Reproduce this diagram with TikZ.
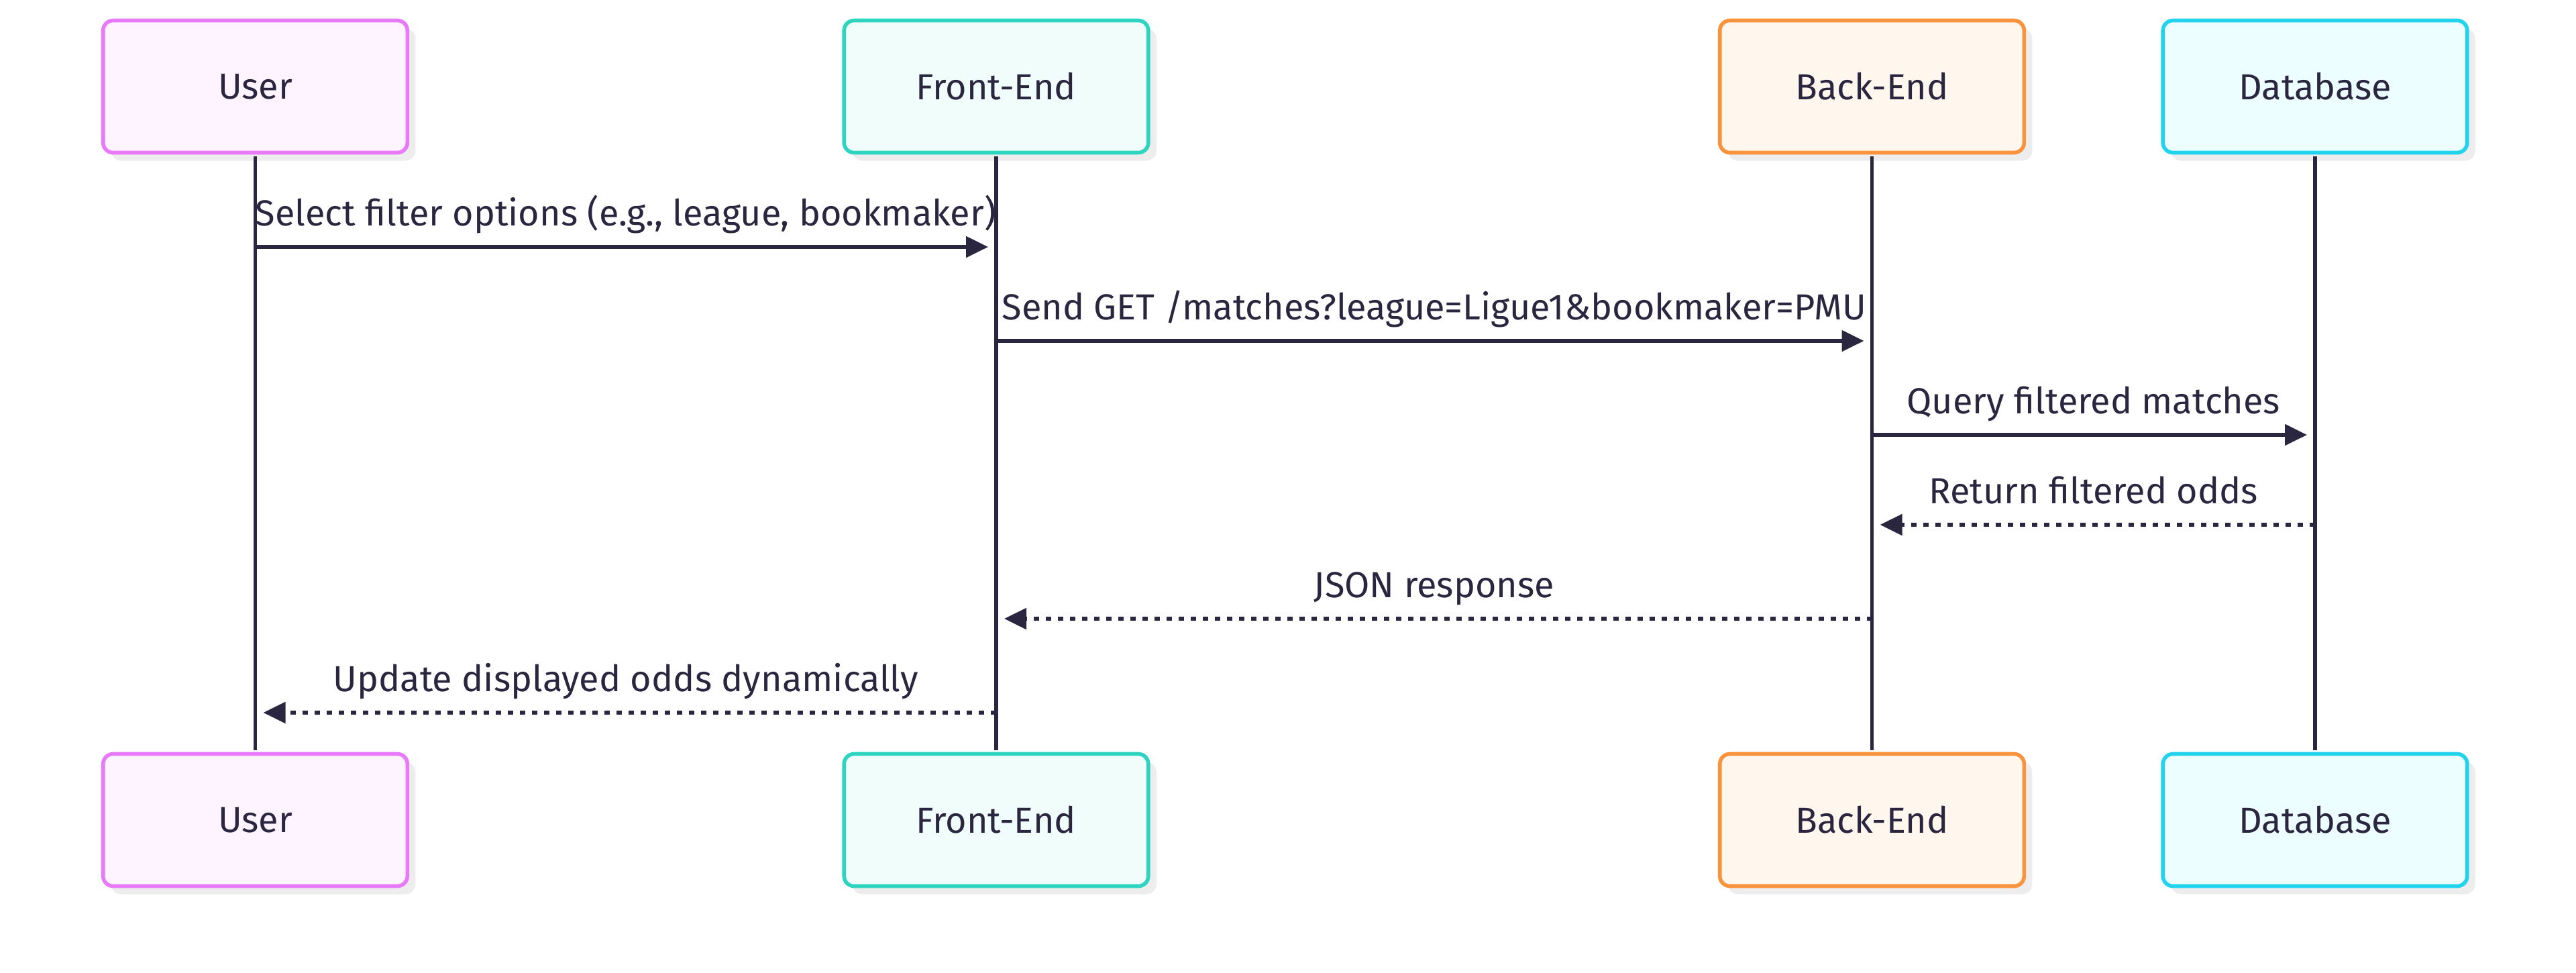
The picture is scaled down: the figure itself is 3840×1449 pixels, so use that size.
\documentclass[tikz,border=0pt]{standalone}
\usepackage{fontspec}
\setmainfont{Fira Sans}
\usetikzlibrary{arrows.meta,shadows}
\definecolor{ink}{HTML}{2A2640}
\definecolor{userB}{HTML}{E879F9}\definecolor{userF}{HTML}{FDF4FF}
\definecolor{feB}{HTML}{2DD4BF}\definecolor{feF}{HTML}{F0FDFA}
\definecolor{beB}{HTML}{FB923C}\definecolor{beF}{HTML}{FFF7ED}
\definecolor{dbB}{HTML}{22D3EE}\definecolor{dbF}{HTML}{ECFEFF}
\definecolor{shad}{HTML}{EDEDED}
\begin{document}
\begin{tikzpicture}[x=0.25pt,y=-0.25pt,
  actor/.style={draw=#1B, fill=#1F, line width=1.4pt, rounded corners=3.75pt,
    minimum width=113.4pt, minimum height=49.25pt, inner sep=0pt, text=ink,
    font=\fontsize{13.5}{15}\selectfont,
    drop shadow={shadow xshift=3pt, shadow yshift=-3pt, fill=shad, opacity=1}},
  lifeline/.style={draw=ink, line width=1.3pt, shorten <=0.7pt, shorten >=0.7pt},
  msg/.style={draw=ink, line width=1.3pt, -{Triangle[length=8.25pt,width=7.75pt]}},
  reply/.style={msg, dash pattern=on 2pt off 2.5pt},
  lbl/.style={text=ink, font=\fontsize{13.5}{15}\selectfont, inner sep=0pt}]
\useasboundingbox (0,0) rectangle (3840,1449);
% top actors
\node[actor=user] (u)  at (380.5,129) {User};
\node[actor=fe]   (f)  at (1485,129)  {Front-End};
\node[actor=be]   (b)  at (2790.5,129) {Back-End};
\node[actor=db]   (d)  at (3451,129)  {Database};
% bottom actors
\node[actor=user] (u2) at (380.5,1222) {User};
\node[actor=fe]   (f2) at (1485,1222)  {Front-End};
\node[actor=be]   (b2) at (2790.5,1222) {Back-End};
\node[actor=db]   (d2) at (3451,1222)  {Database};
% lifelines
\draw[lifeline] (u.south) -- (u2.north);
\draw[lifeline] (f.south) -- (f2.north);
\draw[lifeline] (b.south) -- (b2.north);
\draw[lifeline] (d.south) -- (d2.north);
% messages
\draw[msg] (u.south |- 0,368) -- ([xshift=-3pt]f.south |- 0,368);
\path (u.south |- 0,336) -- (f.south |- 0,336) node[midway, anchor=base, lbl] {Select filter options (e.g., league, bookmaker)};
\draw[msg] (f.south |- 0,508) -- ([xshift=-3pt]b.south |- 0,508);
\path (f.south |- 0,476) -- (b.south |- 0,476) node[midway, anchor=base, lbl] {Send GET /matches?league=Ligue1\&bookmaker=PMU};
\draw[msg] (b.south |- 0,648) -- ([xshift=-3pt]d.south |- 0,648);
\path (b.south |- 0,616) -- (d.south |- 0,616) node[midway, anchor=base, lbl] {Query filtered matches};
\draw[reply] (d.south |- 0,782) -- ([xshift=3pt]b.south |- 0,782);
\path (b.south |- 0,750) -- (d.south |- 0,750) node[midway, anchor=base, lbl] {Return filtered odds};
\draw[reply] (b.south |- 0,922) -- ([xshift=3pt]f.south |- 0,922);
\path (f.south |- 0,890) -- (b.south |- 0,890) node[midway, anchor=base, lbl] {JSON response};
\draw[reply] (f.south |- 0,1062) -- ([xshift=3pt]u.south |- 0,1062);
\path (u.south |- 0,1030) -- (f.south |- 0,1030) node[midway, anchor=base, lbl] {Update displayed odds dynamically};
\end{tikzpicture}
\end{document}
